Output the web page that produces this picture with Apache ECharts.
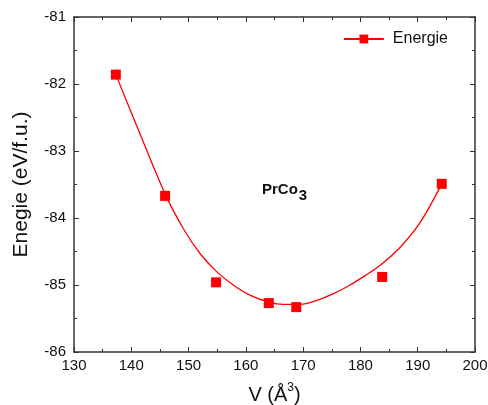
<!DOCTYPE html>
<html><head><meta charset="utf-8">
<script src="https://cdn.jsdelivr.net/npm/echarts@6/dist/echarts.min.js"></script>
<style>html,body{margin:0;padding:0;background:#fff}#c{width:488px;height:405px}</style>
</head><body><div id="c"></div>
<script>
// Data points (V in Å^3, energy in eV/f.u.)
var volumes = [137.3, 145.9, 154.8, 164.0, 168.8, 183.8, 194.2];
var energies = [-81.86, -83.67, -84.96, -85.27, -85.33, -84.88, -83.49];
// Fitted curve
var curveV = [137.3, 141.5, 145.9, 149.1, 152.0, 154.9, 157.8, 160.7, 164.2, 166.5, 169.5, 172.4, 175.3, 178.2, 181.0, 183.4, 186.9, 190.4, 194.2];
var curveE = [-81.86, -82.74, -83.64, -84.16, -84.53, -84.80, -85.00, -85.15, -85.26, -85.29, -85.29, -85.23, -85.13, -85.00, -84.85, -84.71, -84.44, -84.07, -83.49];
var xTicks = [130, 140, 150, 160, 170, 180, 190, 200];
var yTicks = [-86, -85, -84, -83, -82, -81];

var chart = echarts.init(document.getElementById('c'));
var font = 'Liberation Sans, Arial, sans-serif';
var axisCol = '#333';
function pairs(a, b) { return a.map(function (v, i) { return [v, b[i]]; }); }
var baseAxis = {
  type: 'value',
  axisLine: { show: true, onZero: false, lineStyle: { color: axisCol, width: 1.5 } },
  axisTick: { show: true, inside: true, length: 5, lineStyle: { color: axisCol, width: 1 } },
  minorTick: { show: true, splitNumber: 2, length: 3, lineStyle: { color: axisCol, width: 1 } },
  splitLine: { show: false },
  axisLabel: { color: '#111', fontFamily: font, fontSize: 15 }
};
function ax(extra) { return Object.assign({}, JSON.parse(JSON.stringify(baseAxis)), extra); }
chart.setOption({
  animation: false,
  backgroundColor: '#fff',
  grid: { left: 74, right: 13, top: 17, bottom: 53, containLabel: false, outerBoundsMode: 'none' },
  legend: {
    right: 35, top: 26, itemWidth: 40, itemHeight: 11,
    textStyle: { fontFamily: font, fontSize: 16, color: '#111', padding: [0, 0, 0, 4] },
    data: ['Energie']
  },
  xAxis: [
    ax({ min: xTicks[0], max: xTicks[xTicks.length - 1], interval: 10, position: 'bottom',
      name: 'V (Å{s|3})', nameLocation: 'middle', nameGap: 30,
      nameTextStyle: { fontFamily: font, fontSize: 20, color: '#111',
        rich: { s: { fontFamily: font, fontSize: 12, color: '#111', padding: [0, 0, 14, 0] } } },
      axisLabel: { color: '#111', fontFamily: font, fontSize: 15, margin: 6 } }),
    ax({ min: xTicks[0], max: xTicks[xTicks.length - 1], interval: 10, position: 'top', axisLabel: { show: false } })
  ],
  yAxis: [
    ax({ min: yTicks[0], max: yTicks[yTicks.length - 1], interval: 1, position: 'left',
      name: 'Enegie (eV/f.u.)', nameLocation: 'middle', nameGap: 42,
      nameTextStyle: { fontFamily: font, fontSize: 21, color: '#111' },
      axisLabel: { color: '#111', fontFamily: font, fontSize: 15, margin: 8 } }),
    ax({ min: yTicks[0], max: yTicks[yTicks.length - 1], interval: 1, position: 'right', axisLabel: { show: false } })
  ],
  series: [
    { name: 'Energie', type: 'line', data: pairs(curveV, curveE), smooth: 0.35,
      symbol: 'rect', symbolSize: 9, showSymbol: false,
      lineStyle: { color: '#ff0000', width: 1.3 }, itemStyle: { color: '#ff0000' } },
    { name: 'pts', type: 'scatter', data: pairs(volumes, energies), symbol: 'rect', symbolSize: 10,
      itemStyle: { color: '#ff0000', opacity: 1 }, z: 5 }
  ],
  graphic: [{
    type: 'text', left: 262, top: 182,
    style: {
      text: '{a|PrCo}{b|3}',
      rich: {
        a: { fontFamily: font, fontSize: 15, fontWeight: 'bold', fill: '#111' },
        b: { fontFamily: font, fontSize: 15, fontWeight: 'bold', fill: '#111', padding: [12, 0, 0, 1] }
      }
    }
  }]
});
</script></body></html>
